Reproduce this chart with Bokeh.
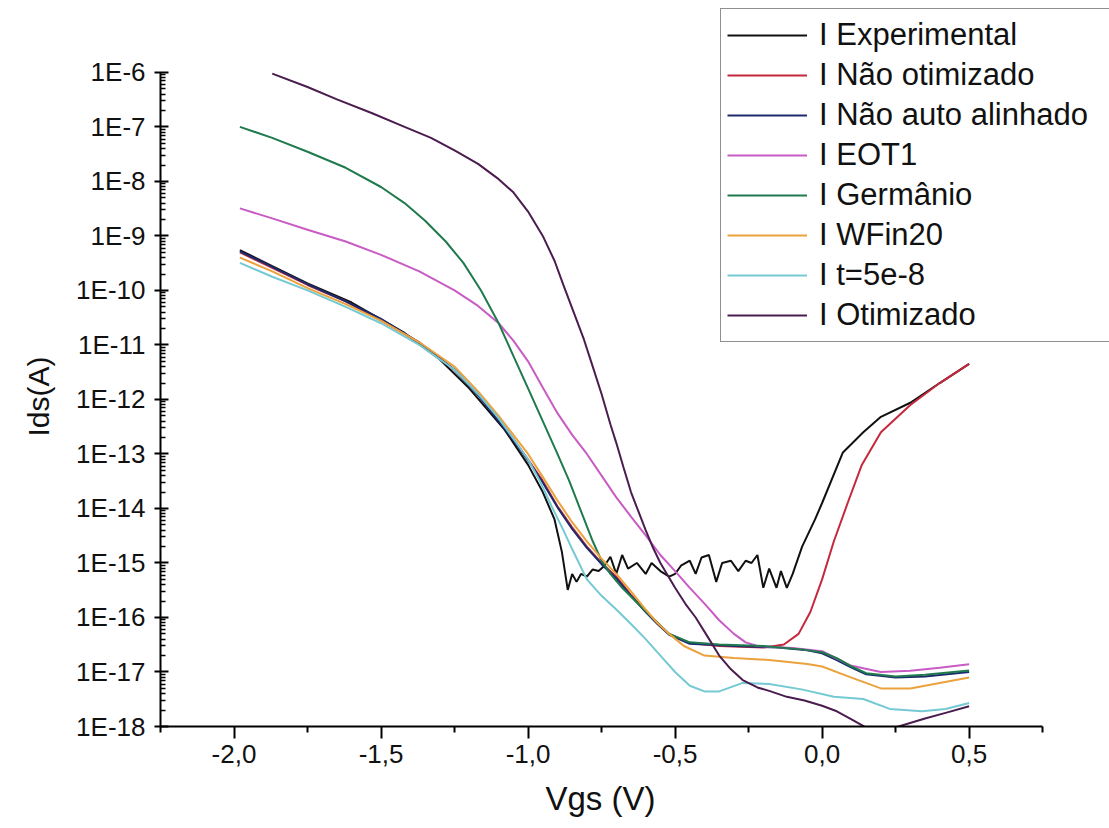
from bokeh.plotting import figure
from bokeh.models import (Range1d, FixedTicker, CustomJSTickFormatter, Legend, LegendItem,
                          ColumnDataSource, Title)
from bokeh.embed import file_html
from bokeh.resources import INLINE

# ---------------- data (Vgs in V, Ids in A) ----------------
vgs_experimental = [-1.98, -1.87, -1.75, -1.6, -1.42, -1.3, -1.2, -1.08, -1.0, -0.95, -0.91, -0.885, -0.865,
                    -0.85, -0.835, -0.82, -0.80, -0.78, -0.76, -0.74, -0.72, -0.70, -0.68, -0.66, -0.63,
                    -0.60, -0.58, -0.55, -0.52, -0.50, -0.48, -0.45, -0.43, -0.41, -0.385, -0.36, -0.34,
                    -0.31, -0.285, -0.26, -0.24, -0.22, -0.20, -0.18, -0.155, -0.14, -0.12, -0.10,
                    -0.068, -0.024, 0.0, 0.07, 0.14, 0.2, 0.3, 0.4, 0.5]
ids_experimental = [5.5e-10, 2.8e-10, 1.35e-10, 6.0e-11, 1.66e-11, 5.4e-12, 1.6e-12, 2.8e-13, 6.3e-14, 2.0e-14,
                    6.3e-15, 1.6e-15, 3.2e-16,
                    6.3e-16, 4.5e-16, 6.3e-16, 5.6e-16, 7.6e-16, 7.1e-16, 8.9e-16, 1.3e-15, 6.3e-16,
                    1.4e-15, 7.9e-16, 1.0e-15, 6.3e-16, 1.0e-15, 7.1e-16, 5.6e-16, 6.3e-16, 8.9e-16,
                    1.1e-15, 6.3e-16, 1.26e-15, 1.4e-15, 4.5e-16, 1.0e-15, 1.1e-15, 7.1e-16, 1.1e-15,
                    1.0e-15, 1.4e-15, 3.5e-16, 7.9e-16, 3.5e-16, 7.1e-16, 3.5e-16, 6.3e-16,
                    2.0e-15, 6.3e-15, 1.26e-14, 1.05e-13, 2.5e-13, 4.8e-13, 8.7e-13, 2.0e-12, 4.5e-12]

vgs_nao_otimizado = [-1.98, -1.87, -1.75, -1.62, -1.5, -1.37, -1.25, -1.17, -1.1, -1.05, -1.0, -0.95, -0.9,
                     -0.85, -0.8, -0.75, -0.7, -0.65, -0.6, -0.56, -0.52, -0.45, -0.35,
                     -0.2, -0.13, -0.08, -0.04, 0.0, 0.04, 0.09, 0.135, 0.2, 0.3, 0.4, 0.5]
ids_nao_otimizado = [5.0e-10, 2.6e-10, 1.26e-10, 6.3e-11, 2.8e-11, 1.12e-11, 3.5e-12, 1.26e-12, 4.5e-13,
                     1.9e-13, 7.9e-14, 3.2e-14, 1.1e-14, 4.5e-15, 2.0e-15, 1.0e-15, 5.6e-16, 2.6e-16,
                     1.3e-16, 7.9e-17, 5.0e-17, 3.4e-17, 3.0e-17, 2.8e-17, 3.2e-17, 5.0e-17, 1.26e-16,
                     5.0e-16, 2.5e-15, 1.4e-14, 6.3e-14, 2.5e-13, 7.9e-13, 2.0e-12, 4.5e-12]

vgs_nao_auto = [-1.98, -1.87, -1.75, -1.62, -1.5, -1.37, -1.25, -1.17, -1.1, -1.05, -1.0, -0.95, -0.9,
                -0.85, -0.8, -0.75, -0.7, -0.65, -0.6, -0.56, -0.52, -0.45, -0.3,
                -0.15, -0.05, 0.0, 0.05, 0.1, 0.15, 0.25, 0.35, 0.5]
ids_nao_auto = [5.2e-10, 2.7e-10, 1.3e-10, 6.3e-11, 3.0e-11, 1.1e-11, 3.5e-12, 1.2e-12, 4.0e-13,
                1.8e-13, 7.6e-14, 3.0e-14, 1.05e-14, 4.2e-15, 1.9e-15, 9.5e-16, 5.2e-16, 2.5e-16,
                1.26e-16, 7.6e-17, 4.8e-17, 3.3e-17, 3.0e-17, 2.8e-17, 2.5e-17, 2.2e-17, 1.66e-17,
                1.2e-17, 9.1e-18, 7.9e-18, 8.3e-18, 1.0e-17]

vgs_eot1 = [-1.98, -1.87, -1.75, -1.62, -1.5, -1.37, -1.25, -1.17, -1.1, -1.05, -1.0, -0.95, -0.9,
            -0.85, -0.8, -0.75, -0.7, -0.65, -0.6, -0.55, -0.5, -0.45, -0.4, -0.35, -0.3, -0.26,
            -0.22, -0.1, 0.0, 0.1, 0.2, 0.3, 0.4, 0.5]
ids_eot1 = [3.2e-9, 2.1e-9, 1.3e-9, 7.9e-10, 4.5e-10, 2.24e-10, 1.0e-10, 5.2e-11, 2.5e-11, 1.2e-11,
            5.0e-12, 1.66e-12, 5.6e-13, 2.24e-13, 1.0e-13, 4.0e-14, 1.6e-14, 7.1e-15, 3.2e-15,
            1.4e-15, 7.1e-16, 3.5e-16, 1.8e-16, 8.9e-17, 5.0e-17, 3.5e-17,
            3.0e-17, 2.75e-17, 2.4e-17, 1.3e-17, 1.0e-17, 1.05e-17, 1.2e-17, 1.38e-17]

vgs_germanio = [-1.98, -1.87, -1.75, -1.62, -1.5, -1.42, -1.35, -1.28, -1.22, -1.16, -1.1, -1.05, -1.0,
                -0.95, -0.9, -0.86, -0.82, -0.78, -0.75, -0.72, -0.68, -0.6,
                -0.52, -0.45, -0.35, -0.2, -0.07, 0.0, 0.05, 0.1, 0.15, 0.25, 0.35, 0.5]
ids_germanio = [1.0e-7, 6.3e-8, 3.5e-8, 1.78e-8, 7.9e-9, 4.0e-9, 1.9e-9, 7.9e-10, 3.2e-10, 1.0e-10,
                2.5e-11, 6.3e-12, 1.6e-12, 4.0e-13, 1.0e-13, 3.2e-14, 8.9e-15, 2.5e-15, 1.1e-15,
                6.3e-16, 3.5e-16, 1.3e-16, 5.0e-17, 3.5e-17, 3.2e-17, 3.0e-17, 2.6e-17, 2.3e-17,
                1.8e-17, 1.26e-17, 9.5e-18, 8.3e-18, 8.9e-18, 1.07e-17]

vgs_wfin20 = [-1.98, -1.87, -1.75, -1.62, -1.5, -1.37, -1.25, -1.17, -1.1, -1.05, -1.0, -0.95, -0.9,
              -0.85, -0.8, -0.75, -0.7, -0.65, -0.6, -0.56, -0.52, -0.47, -0.4, -0.3,
              -0.18, -0.05, 0.0, 0.1, 0.2, 0.3, 0.4, 0.5]
ids_wfin20 = [4.0e-10, 2.24e-10, 1.1e-10, 5.6e-11, 2.8e-11, 1.12e-11, 4.0e-12, 1.4e-12, 5.0e-13, 2.24e-13,
              1.0e-13, 3.8e-14, 1.4e-14, 5.6e-15, 2.5e-15, 1.2e-15, 6.3e-16, 3.0e-16, 1.4e-16, 7.9e-17,
              5.0e-17, 3.0e-17, 2.0e-17, 1.8e-17, 1.66e-17, 1.4e-17, 1.26e-17, 7.9e-18, 5.0e-18,
              5.0e-18, 6.3e-18, 7.9e-18]

vgs_t5e8 = [-1.98, -1.87, -1.75, -1.62, -1.5, -1.37, -1.25, -1.17, -1.1, -1.05, -1.0, -0.96, -0.92,
            -0.88, -0.85, -0.8, -0.75, -0.7, -0.65, -0.6, -0.55, -0.5, -0.45, -0.4,
            -0.35, -0.27, -0.18, -0.07, 0.04, 0.14, 0.23, 0.34, 0.42, 0.5]
ids_t5e8 = [3.2e-10, 1.78e-10, 1.0e-10, 5.0e-11, 2.5e-11, 1.0e-11, 3.5e-12, 1.26e-12, 4.5e-13, 1.9e-13,
            7.9e-14, 3.2e-14, 1.1e-14, 4.0e-15, 1.8e-15, 5.0e-16, 2.5e-16, 1.4e-16, 7.6e-17, 4.0e-17,
            2.0e-17, 1.0e-17, 5.6e-18, 4.4e-18, 4.4e-18, 6.3e-18, 6.0e-18, 4.8e-18, 3.5e-18, 3.2e-18,
            2.1e-18, 1.9e-18, 2.1e-18, 2.7e-18]

vgs_otimizado = [-1.87, -1.75, -1.65, -1.53, -1.42, -1.33, -1.25, -1.17, -1.1, -1.05, -1.0, -0.95, -0.91,
                 -0.88, -0.845, -0.81, -0.78, -0.75, -0.72, -0.7, -0.675, -0.65, -0.625, -0.6, -0.575,
                 -0.55, -0.5, -0.465, -0.43, -0.39, -0.35, -0.31, -0.27, -0.22, -0.18, -0.12, -0.06,
                 0.0, 0.05, 0.1, 0.15, 0.2, 0.26, 0.35, 0.42, 0.5]
ids_otimizado = [9.5e-7, 5.4e-7, 3.2e-7, 1.78e-7, 1.0e-7, 6.3e-8, 3.7e-8, 2.1e-8, 1.1e-8, 6.3e-9,
                 2.8e-9, 1.0e-9, 3.5e-10, 1.26e-10, 4.0e-11, 1.26e-11, 4.0e-12, 1.26e-12, 3.5e-13,
                 1.6e-13, 5.6e-14, 2.0e-14, 8.9e-15, 4.0e-15, 1.9e-15, 1.0e-15, 3.5e-16, 1.78e-16,
                 1.0e-16, 4.5e-17, 2.0e-17, 1.12e-17, 7.1e-18, 5.2e-18, 4.5e-18, 3.5e-18, 3.0e-18,
                 2.4e-18, 1.9e-18, 1.35e-18, 9.5e-19, 8.3e-19, 1.0e-18, 1.4e-18, 1.78e-18, 2.35e-18]

series_labels = ["I Experimental", "I Não otimizado", "I Não auto alinhado", "I EOT1",
                 "I Germânio", "I WFin20", "I t=5e-8", "I Otimizado"]
series_colors = ["#111111", "#c4283c", "#1d2a6e", "#c95cc4", "#1f7a4e", "#eba23c", "#74c9d3", "#4a1d4e"]

x_major_ticks = [-2.0, -1.5, -1.0, -0.5, 0.0, 0.5]
x_minor_ticks = [-2.25, -1.75, -1.25, -0.75, -0.25, 0.25, 0.75]
y_decades = [1e-18, 1e-17, 1e-16, 1e-15, 1e-14, 1e-13, 1e-12, 1e-11, 1e-10, 1e-9, 1e-8, 1e-7, 1e-6]

series_x = [vgs_experimental, vgs_nao_otimizado, vgs_nao_auto, vgs_eot1,
            vgs_germanio, vgs_wfin20, vgs_t5e8, vgs_otimizado]
series_y = [ids_experimental, ids_nao_otimizado, ids_nao_auto, ids_eot1,
            ids_germanio, ids_wfin20, ids_t5e8, ids_otimizado]

FONT = "Liberation Sans"

# ---- layout geometry: axes span x in [-2.25, 0.75], y in [1e-18, 1e-6];
# the plotting frame is extended up and right so the legend can overhang the axes.
W, H = 1109, 828
AX_LEFT, AX_RIGHT, AX_TOP, AX_BOTTOM = 158, 1042, 72, 727
x_lo, x_hi = -2.25, 0.75
dec_lo, dec_hi = -18, -6
px_per_v = (AX_RIGHT - AX_LEFT) / (x_hi - x_lo)
px_per_dec = (AX_BOTTOM - AX_TOP) / (dec_hi - dec_lo)
x_frame_end = x_hi + (W - AX_RIGHT) / px_per_v
y_frame_end = 10 ** (dec_hi + AX_TOP / px_per_dec)

p = figure(width=W, height=H, y_axis_type="log",
           x_range=Range1d(x_lo, x_frame_end), y_range=Range1d(10.0 ** dec_lo, y_frame_end),
           output_backend="svg", toolbar_location=None,
           min_border_left=AX_LEFT, min_border_right=0, min_border_top=0,
           min_border_bottom=H - AX_BOTTOM)
p.outline_line_color = None
p.xgrid.visible = False
p.ygrid.visible = False
p.background_fill_color = "white"
p.border_fill_color = "white"

renderers = []
for xs, ys, c in zip(series_x, series_y, series_colors):
    src = ColumnDataSource(dict(x=xs, y=ys))
    r = p.line("x", "y", source=src, line_color=c, line_width=2)
    renderers.append(r)

# x axis
xa = p.xaxis[0]
xa.bounds = (x_lo, x_hi)
xa.ticker = FixedTicker(ticks=x_major_ticks, minor_ticks=x_minor_ticks)
xa.formatter = CustomJSTickFormatter(code="return tick.toFixed(1).replace('.', ',');")
xa.major_tick_out = 12
xa.major_tick_in = 0
xa.minor_tick_out = 6
xa.minor_tick_in = 0
xa.axis_line_width = 2
xa.major_tick_line_width = 2
xa.minor_tick_line_width = 2
xa.major_label_standoff = 6
xa.major_label_text_font = FONT
xa.major_label_text_font_size = "26px"
xa.major_label_text_color = "#111111"

# y axis
ya = p.yaxis[0]
ya.bounds = (10.0 ** dec_lo, 10.0 ** dec_hi)
y_minor = [m * d for d in y_decades[:-1] for m in (2, 3, 4, 5, 6, 7, 8, 9)]
ya.ticker = FixedTicker(ticks=y_decades, minor_ticks=y_minor)
ya.formatter = CustomJSTickFormatter(code="return '1E' + Math.round(Math.log10(tick));")
ya.major_tick_out = 6
ya.major_tick_in = 8
ya.minor_tick_out = 0
ya.minor_tick_in = 5
ya.axis_line_width = 2
ya.major_tick_line_width = 2
ya.minor_tick_line_width = 1.5
ya.major_label_standoff = 9
ya.major_label_text_font = FONT
ya.major_label_text_font_size = "26px"
ya.major_label_text_color = "#111111"

# axis titles, positioned along the axes' own extent
x_title = Title(text="Vgs (V)", align="left", offset=385, text_font=FONT, text_font_size="33px",
                text_font_style="normal", text_color="#111111", standoff=24)
p.add_layout(x_title, "below")
y_title = Title(text="Ids(A)", align="left", offset=290, text_font=FONT, text_font_size="30px",
                text_font_style="normal", text_color="#111111", standoff=38)
p.add_layout(y_title, "left")

items = [LegendItem(label=lab, renderers=[r]) for lab, r in zip(series_labels, renderers)]
legend = Legend(items=items, location=(560, 384), orientation="vertical",
                border_line_color="#222222", border_line_width=1.5,
                background_fill_color="white", background_fill_alpha=1.0,
                label_text_font=FONT, label_text_font_size="31px", label_text_color="#111111",
                glyph_width=80, glyph_height=40, label_height=40, label_width=360,
                spacing=0, padding=6, label_standoff=12, margin=0)
p.add_layout(legend, "center")

open("out.html", "w").write(file_html(p, INLINE))
